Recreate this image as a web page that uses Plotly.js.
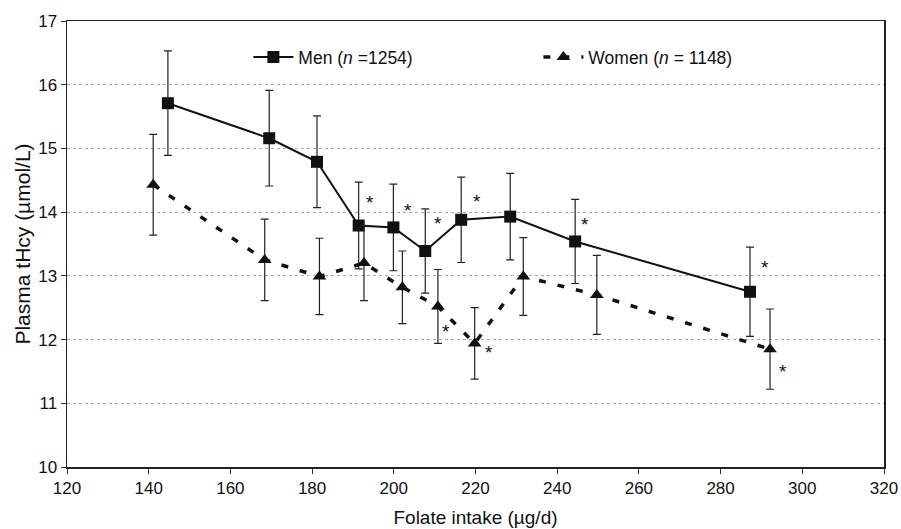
<!DOCTYPE html>
<html>
<head>
<meta charset="utf-8">
<script src="https://cdn.plot.ly/plotly-3.0.1.min.js"></script>
<style>html,body{margin:0;padding:0;background:#fff}#chart{width:901px;height:529px}</style>
</head>
<body>
<div id="chart"></div>
<script>
// Men
var menX = [144.7, 169.5, 181.2, 191.4, 199.9, 207.7, 216.5, 228.5, 244.4, 287.2];
var menY = [15.71, 15.16, 14.79, 13.79, 13.76, 13.39, 13.88, 13.93, 13.54, 12.75];
var menErr = [0.82, 0.75, 0.72, 0.68, 0.68, 0.66, 0.67, 0.68, 0.66, 0.70];
var menStar = [3, 4, 5, 6, 8, 9];
// Women
var womenX = [141.1, 168.4, 181.8, 192.7, 202.1, 210.8, 219.8, 231.7, 249.7, 292.1];
var womenY = [14.43, 13.25, 12.99, 13.20, 12.82, 12.52, 11.94, 12.99, 12.70, 11.85];
var womenErr = [0.79, 0.64, 0.60, 0.59, 0.57, 0.58, 0.56, 0.61, 0.62, 0.63];
var womenStar = [5, 6, 9];

var xTicks = [120, 140, 160, 180, 200, 220, 240, 260, 280, 300, 320];
var yTicks = [10, 11, 12, 13, 14, 15, 16, 17];

var menStarShift = {3:[11,-23],4:[15,-17],5:[13,-28],6:[16,-18],8:[10,-17],9:[15,-24]};
var womenStarShift = {5:[8,25],6:[14,9],9:[13,22]};

var traces = [
  {
    x: menX, y: menY, type: 'scatter', mode: 'lines+markers',
    name: 'Men (<i>n</i> =1254)',
    line: {color: '#111', width: 2},
    marker: {symbol: 'square', size: 12, color: '#111'},
    error_y: {type: 'data', array: menErr, visible: true, color: '#222', thickness: 1.2, width: 4}
  },
  {
    x: womenX, y: womenY, type: 'scatter', mode: 'lines+markers',
    name: 'Women (<i>n</i> = 1148)',
    line: {color: '#111', width: 3.5, dash: '7px,12px'},
    marker: {symbol: 'triangle-up', size: 12, color: '#111'},
    error_y: {type: 'data', array: womenErr, visible: true, color: '#222', thickness: 1.2, width: 4}
  }
];

var ann = [];
menStar.forEach(function(i){
  ann.push({x: menX[i], y: menY[i], xref:'x', yref:'y', text:'*', showarrow:false,
    xshift: menStarShift[i][0], yshift: -menStarShift[i][1], font:{size:19, color:'#111'}});
});
womenStar.forEach(function(i){
  ann.push({x: womenX[i], y: womenY[i], xref:'x', yref:'y', text:'*', showarrow:false,
    xshift: womenStarShift[i][0], yshift: -womenStarShift[i][1], font:{size:19, color:'#111'}});
});

var layout = {
  width: 901, height: 529,
  margin: {l: 67, r: 17, t: 21, b: 62},
  paper_bgcolor: '#fff', plot_bgcolor: '#fff',
  font: {family: 'Liberation Sans, Arial, sans-serif', color: '#111', size: 17},
  showlegend: true,
  legend: {orientation: 'h', x: 0.222, y: 0.919, xanchor: 'left', yanchor: 'middle',
    bgcolor: 'rgba(0,0,0,0)', font: {size: 17.5}, itemwidth: 40,
    entrywidth: 235, entrywidthmode: 'pixels'},
  xaxis: {
    range: [120, 320], tickvals: xTicks, ticktext: xTicks.map(String),
    showgrid: false, zeroline: false,
    showline: true, linecolor: '#222', linewidth: 1.5, mirror: true,
    ticks: 'outside', ticklen: 5, tickcolor: '#333',
    tickfont: {size: 17},
    title: {text: 'Folate intake (µg/d)', font: {size: 19}, standoff: 14}
  },
  yaxis: {
    range: [10, 17], tickvals: yTicks, ticktext: yTicks.map(String),
    showgrid: true, gridcolor: '#aaa', griddash: 'dot', gridwidth: 1,
    zeroline: false,
    showline: true, linecolor: '#222', linewidth: 1.5, mirror: true,
    ticks: 'outside', ticklen: 5, tickcolor: '#333',
    tickfont: {size: 17},
    title: {text: 'Plasma tHcy (µmol/L)', font: {size: 21}, standoff: 2}
  },
  annotations: ann
};

Plotly.newPlot('chart', traces, layout, {displayModeBar: false, staticPlot: true});
</script>
</body>
</html>
